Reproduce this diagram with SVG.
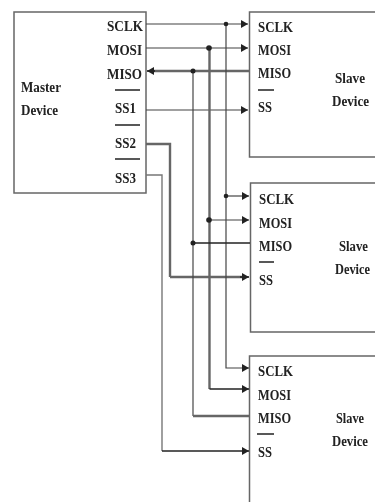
<svg xmlns="http://www.w3.org/2000/svg" width="375" height="502" viewBox="0 0 375 502">
<style>
text{font-family:"Liberation Serif",serif;font-weight:bold;font-size:14.500px;fill:#222}
.box{fill:#fff;stroke:#666;stroke-width:1.5}
.w{fill:none;stroke:#444;stroke-width:1.2}
.g{fill:none;stroke:#777;stroke-width:1.4}
.t{fill:none;stroke:#666;stroke-width:2.4}
.d{fill:none;stroke:#222;stroke-width:1.6}
.b{stroke:#222;stroke-width:1.5}
</style>
<defs>
<filter id="soft" x="-5%" y="-5%" width="110%" height="110%"><feGaussianBlur stdDeviation="0.45"/></filter>
<marker id="a" markerUnits="userSpaceOnUse" markerWidth="8" markerHeight="8" refX="7" refY="4" orient="auto"><path d="M0 0L7 4L0 8Z" fill="#222"/></marker>
</defs>
<rect width="375" height="502" fill="#fff"/>
<g filter="url(#soft)">
<g id="master">
<rect class="box" x="14" y="12" width="132" height="181"/>
<text x="107" y="31" textLength="36" lengthAdjust="spacingAndGlyphs">SCLK</text>
<text x="107" y="55" textLength="35" lengthAdjust="spacingAndGlyphs">MOSI</text>
<text x="107" y="79" textLength="35" lengthAdjust="spacingAndGlyphs">MISO</text>
<line class="b" x1="115" y1="90" x2="140" y2="90"/>
<text x="115" y="113" textLength="21" lengthAdjust="spacingAndGlyphs">SS1</text>
<line class="b" x1="115" y1="125" x2="140" y2="125"/>
<text x="115" y="148" textLength="21" lengthAdjust="spacingAndGlyphs">SS2</text>
<line class="b" x1="115" y1="159" x2="140" y2="159"/>
<text x="115" y="183" textLength="21" lengthAdjust="spacingAndGlyphs">SS3</text>
<text x="21" y="92" textLength="40" lengthAdjust="spacingAndGlyphs">Master</text>
<text x="21" y="115" textLength="37" lengthAdjust="spacingAndGlyphs">Device</text>
</g>
<g id="slave1">
<path class="box" d="M375 12H249.500V157H375"/>
<text x="258" y="32" textLength="35" lengthAdjust="spacingAndGlyphs">SCLK</text>
<text x="258" y="55" textLength="33" lengthAdjust="spacingAndGlyphs">MOSI</text>
<text x="258" y="78" textLength="33" lengthAdjust="spacingAndGlyphs">MISO</text>
<line class="b" x1="258" y1="90" x2="274" y2="90"/>
<text x="258" y="112" textLength="14" lengthAdjust="spacingAndGlyphs">SS</text>
<text x="335" y="83" textLength="30" lengthAdjust="spacingAndGlyphs">Slave</text>
<text x="332" y="106" textLength="37" lengthAdjust="spacingAndGlyphs">Device</text>
</g>
<g id="slave2">
<path class="box" d="M375 183H250.500V332H375"/>
<text x="259" y="204" textLength="35" lengthAdjust="spacingAndGlyphs">SCLK</text>
<text x="259" y="228" textLength="33" lengthAdjust="spacingAndGlyphs">MOSI</text>
<text x="259" y="251" textLength="33" lengthAdjust="spacingAndGlyphs">MISO</text>
<line class="b" x1="259" y1="262" x2="274" y2="262"/>
<text x="259" y="285" textLength="14" lengthAdjust="spacingAndGlyphs">SS</text>
<text x="339" y="251" textLength="29" lengthAdjust="spacingAndGlyphs">Slave</text>
<text x="335" y="274" textLength="35" lengthAdjust="spacingAndGlyphs">Device</text>
</g>
<g id="slave3">
<path class="box" d="M375 356H249.500V502"/>
<text x="258" y="376" textLength="35" lengthAdjust="spacingAndGlyphs">SCLK</text>
<text x="258" y="400" textLength="33" lengthAdjust="spacingAndGlyphs">MOSI</text>
<text x="258" y="423" textLength="33" lengthAdjust="spacingAndGlyphs">MISO</text>
<line class="b" x1="257" y1="434" x2="274" y2="434"/>
<text x="258" y="457" textLength="14" lengthAdjust="spacingAndGlyphs">SS</text>
<text x="336" y="423" textLength="28" lengthAdjust="spacingAndGlyphs">Slave</text>
<text x="332" y="446" textLength="36" lengthAdjust="spacingAndGlyphs">Device</text>
</g>
<g id="connectors">
<path class="w" d="M146 24H248" marker-end="url(#a)"/>
<path class="w" d="M146 48H248" marker-end="url(#a)"/>
<path class="t" d="M249 71H152"/>
<path class="d" d="M155 71H147" marker-end="url(#a)"/>
<path class="w" d="M146 110H248" marker-end="url(#a)"/>
<path class="t" d="M146 144H170V277"/>
<path class="t" d="M170 277H245"/>
<path class="d" d="M240 277H249" marker-end="url(#a)"/>
<path class="g" d="M146 175H162V451"/>
<path class="d" d="M162 451H249" marker-end="url(#a)"/>
<path class="w" d="M226 24V368H249" marker-end="url(#a)"/>
<path class="t" d="M209.500 48V389"/>
<path class="d" d="M209.500 389H249" marker-end="url(#a)"/>
<path class="w" d="M193 71V416"/>
<path class="t" d="M193 416H249"/>
<path class="w" d="M226 196H249" marker-end="url(#a)"/>
<path class="w" d="M209.500 220H249" marker-end="url(#a)"/>
<path class="d" d="M193 243H250"/>
<circle cx="226" cy="24" r="2.300" fill="#222"/>
<circle cx="209" cy="48" r="2.800" fill="#222"/>
<circle cx="193" cy="71" r="2.500" fill="#222"/>
<circle cx="226" cy="196" r="2.300" fill="#222"/>
<circle cx="209" cy="220" r="2.800" fill="#222"/>
<circle cx="193" cy="243" r="2.500" fill="#222"/>
</g>
</g>
</svg>
